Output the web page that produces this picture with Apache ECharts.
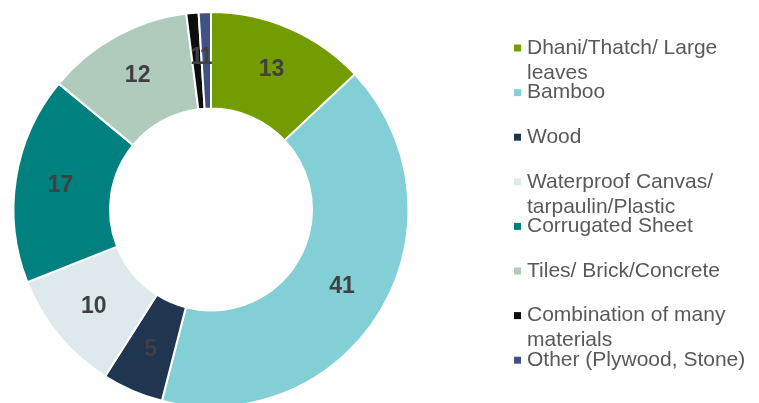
<!DOCTYPE html>
<html>
<head>
<meta charset="utf-8">
<script src="https://cdn.jsdelivr.net/npm/echarts@6/dist/echarts.min.js"></script>
<style>
  html, body { margin: 0; padding: 0; background: #ffffff; }
  #chart { width: 759px; height: 403px; }
</style>
</head>
<body>
<div id="chart"></div>
<script>
// Roof material shares (percent)
const categories = [
  'Dhani/Thatch/ Large leaves',
  'Bamboo',
  'Wood',
  'Waterproof Canvas/ tarpaulin/Plastic',
  'Corrugated Sheet',
  'Tiles/ Brick/Concrete',
  'Combination of many materials',
  'Other (Plywood, Stone)'
];
const values = [13, 41, 5, 10, 17, 12, 1, 1];
// Legend text, with the line breaks used in the key
const legendText = [
  'Dhani/Thatch/ Large\nleaves',
  'Bamboo',
  'Wood',
  'Waterproof Canvas/\ntarpaulin/Plastic',
  'Corrugated Sheet',
  'Tiles/ Brick/Concrete',
  'Combination of many\nmaterials',
  'Other (Plywood, Stone)'
];
const colors = ['#739c00', '#83cfd6', '#1f3550', '#dde9ed', '#00807f', '#b0cabb', '#0d0d0d', '#3e5383'];

const FONT = 'Liberation Sans, Arial, sans-serif';
const LINE_H = 25;
const KEY_TOP = 48;     // centre of the first key entry
const KEY_STEP = 44.6;  // distance between key entries

const chart = echarts.init(document.getElementById('chart'), null, { renderer: 'canvas' });

// One legend block per entry; wrapped entries get an empty leading line so
// the marker lines up with the first line of text.
const legends = categories.map((name, i) => {
  const parts = legendText[i].split('\n');
  const text = parts.length > 1 ? '\n' + parts.join('\n') : parts[0];
  const nLines = text.split('\n').length;
  return {
    orient: 'vertical',
    left: 514,
    top: KEY_TOP + i * KEY_STEP - (nLines * LINE_H) / 2,
    padding: 0,
    itemWidth: 7,
    itemHeight: 7,
    icon: 'rect',
    selectedMode: false,
    itemStyle: { borderWidth: 0 },
    data: [name],
    formatter: () => text,
    textStyle: {
      fontFamily: FONT,
      fontSize: 21,
      lineHeight: LINE_H,
      color: '#595959',
      padding: [0, 0, 0, 1]
    }
  };
});

chart.setOption({
  animation: false,
  color: colors,
  legend: legends,
  series: [{
    type: 'pie',
    center: [211, 209.5],
    radius: [101, 197.5],
    startAngle: 90,
    clockwise: true,
    avoidLabelOverlap: false,
    itemStyle: { borderColor: '#ffffff', borderWidth: 2 },
    label: {
      show: true,
      position: 'inside',
      formatter: p => String(p.value),
      fontFamily: FONT,
      fontSize: 23,
      fontWeight: 'bold',
      color: '#404040'
    },
    labelLayout: { hideOverlap: false },
    labelLine: { show: false },
    emphasis: { disabled: true },
    data: categories.map((c, i) => ({ name: c, value: values[i] }))
  }]
});
</script>
</body>
</html>
